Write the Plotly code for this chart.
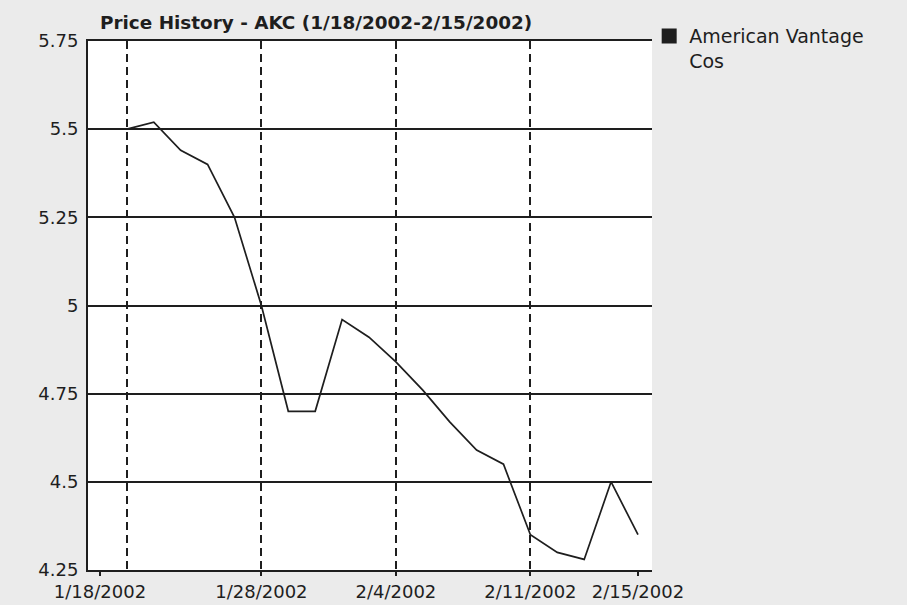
import plotly.graph_objects as go

# ---- data ----
dates = ["2002-01-21", "2002-01-22", "2002-01-23", "2002-01-24", "2002-01-25",
         "2002-01-28", "2002-01-29", "2002-01-30", "2002-01-31", "2002-02-01",
         "2002-02-04", "2002-02-05", "2002-02-06", "2002-02-07", "2002-02-08",
         "2002-02-11", "2002-02-12", "2002-02-13", "2002-02-14", "2002-02-15"]
prices = [5.50, 5.52, 5.44, 5.40, 5.25,
          5.00, 4.70, 4.70, 4.96, 4.91,
          4.84, 4.76, 4.67, 4.59, 4.55,
          4.35, 4.30, 4.28, 4.50, 4.35]
series_name = "American Vantage<br>Cos"
title_text = "Price History - AKC (1/18/2002-2/15/2002)"

label_dates = ["2002-01-18", "2002-01-28", "2002-02-04", "2002-02-11", "2002-02-15"]
label_text = ["1/18/2002", "1/28/2002", "2/4/2002", "2/11/2002", "2/15/2002"]
grid_dates = ["2002-01-21", "2002-01-28", "2002-02-04", "2002-02-11"]
y_ticks = [4.25, 4.5, 4.75, 5.0, 5.25, 5.5, 5.75]
y_text = ["4.25", "4.5", "4.75", "5", "5.25", "5.5", "5.75"]
x_range = ["2002-01-17 13:18", "2002-02-15 12:30"]

INK = "#1e1e1e"
FONT = "DejaVu Sans, Liberation Sans, sans-serif"

fig = go.Figure()
fig.add_trace(go.Scatter(x=dates, y=prices, mode="lines",
                         line=dict(color=INK, width=1.7),
                         showlegend=False, xaxis="x", yaxis="y"))
# invisible companion trace for the label axis
fig.add_trace(go.Scatter(x=dates, y=prices, mode="lines", opacity=0,
                         hoverinfo="skip", showlegend=False,
                         xaxis="x2", yaxis="y"))
# legend entry with a square swatch
fig.add_trace(go.Scatter(x=[None], y=[None], mode="markers", name=series_name,
                         marker=dict(symbol="square", size=15, color=INK)))

breaks = [dict(bounds=["sat", "mon"])]

fig.update_layout(
    width=907, height=605,
    margin=dict(l=88, r=255, t=41, b=35, autoexpand=False),
    paper_bgcolor="#ebebeb",
    plot_bgcolor="white",
    font=dict(family=FONT, size=18, color=INK),
    title=dict(text="<b>" + title_text + "</b>",
               font=dict(family=FONT, size=18.4, color=INK),
               x=100 / 907, xanchor="left", xref="container",
               y=1 - 23 / 605, yanchor="middle", yref="container"),
    xaxis=dict(type="date", range=x_range, rangebreaks=breaks, automargin=False,
               tickmode="array", tickvals=grid_dates, showticklabels=False,
               ticks="", showgrid=True, gridcolor=INK, gridwidth=2,
               griddash="8px,5px",
               showline=True, linecolor=INK, linewidth=2, mirror=True,
               zeroline=False),
    xaxis2=dict(type="date", overlaying="x", matches="x", side="bottom",
                anchor="y", rangebreaks=breaks, automargin=False,
                tickmode="array", tickvals=label_dates, ticktext=label_text,
                ticks="outside", ticklen=5, tickwidth=2, tickcolor=INK,
                showgrid=False, showline=False, zeroline=False,
                tickfont=dict(family=FONT, size=18, color=INK)),
    yaxis=dict(range=[4.25, 5.75], tickmode="array", tickvals=y_ticks,
               ticktext=y_text, showgrid=True, gridcolor=INK, gridwidth=1.5,
               showline=True, linecolor=INK, linewidth=2, ticks="",
               automargin=False, ticklabelstandoff=4,
               zeroline=False, tickfont=dict(family=FONT, size=18, color=INK)),
    legend=dict(x=0.995, xanchor="left", y=1.045, yanchor="top",
                valign="top",
                bgcolor="rgba(0,0,0,0)", font=dict(family=FONT, size=19, color=INK),
                itemwidth=30, tracegroupgap=0),
)

fig.write_html("out.html")
